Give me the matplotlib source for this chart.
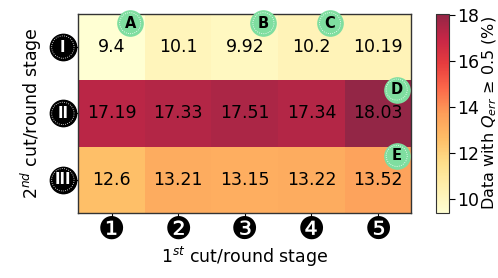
import matplotlib
matplotlib.use("Agg")
import matplotlib.pyplot as plt
import matplotlib.transforms as mtransforms
import numpy as np

ROWS = ["I", "II", "III"]
COLS = ["\u2776", "\u2777", "\u2778", "\u2779", "\u277a"]
VALUES = [
    [9.4, 10.1, 9.92, 10.2, 10.19],
    [17.19, 17.33, 17.51, 17.34, 18.03],
    [12.6, 13.21, 13.15, 13.22, 13.52],
]
LABELS = ["9.4", "10.1", "9.92", "10.2", "10.19",
          "17.19", "17.33", "17.51", "17.34", "18.03",
          "12.6", "13.21", "13.15", "13.22", "13.52"]
# marker letters: (letter, column, row)
MARKS = [("A", 0, 0), ("B", 2, 0), ("C", 3, 0), ("D", 4, 1), ("E", 4, 2)]
CBAR_TICKS = [10, 12, 14, 16, 18]

MINT = "#7fdea0"
FS = 12.5

plt.rcParams["font.family"] = "DejaVu Sans"

data = np.array(VALUES)
fig = plt.figure(figsize=(4.98, 2.78), dpi=100)
ax = fig.add_axes([0.157, 0.234, 0.669, 0.716])
cax = fig.add_axes([0.876, 0.234, 0.026, 0.716])

mesh = ax.pcolormesh(data, cmap="YlOrRd", alpha=0.85,
                     vmin=data.min(), vmax=data.max())
ax.set_xlim(0, data.shape[1])
ax.set_ylim(data.shape[0], 0)

for i in range(data.shape[0]):
    for j in range(data.shape[1]):
        ax.text(j + 0.5, i + 0.5, LABELS[i * data.shape[1] + j],
                ha="center", va="center", fontsize=FS, color="black")

# green letter badges
for letter, j, i in MARKS:
    ax.scatter([j + 0.78], [i + 0.14], s=330, c=MINT, zorder=5, clip_on=False)
    ax.scatter([j + 0.78], [i + 0.14], s=230, c=MINT, edgecolors="white",
               linewidths=0.6, linestyle=":", zorder=6, clip_on=False)
    ax.text(j + 0.78, i + 0.14, letter, ha="center", va="center",
            fontsize=10.5, fontweight="bold", color="black", zorder=7)

# x ticks: negative circled digits
ax.set_xticks(np.arange(data.shape[1]) + 0.5)
ax.set_xticklabels(COLS, fontsize=22)
ax.tick_params(axis="x", length=4, pad=-2)

# y ticks: roman numerals in black circles
ax.set_yticks(np.arange(data.shape[0]) + 0.5)
ax.set_yticklabels([])
ax.tick_params(axis="y", length=4)
trans = mtransforms.blended_transform_factory(ax.transAxes, ax.transData)
ypos = np.arange(data.shape[0]) + 0.5
ax.scatter(np.full(3, -0.046), ypos, s=360, c="black", transform=trans,
           clip_on=False, zorder=5)
ax.scatter(np.full(3, -0.046), ypos, s=260, c="black", edgecolors="white",
           linewidths=0.6, linestyle=":", transform=trans, clip_on=False, zorder=6)
for y, r in zip(ypos, ROWS):
    ax.text(-0.046, y, r, transform=trans, ha="center", va="center",
            color="white", fontsize=11.5, fontweight="bold", zorder=7,
            fontstretch="condensed")

ax.set_xlabel("1$^{st}$ cut/round stage", fontsize=FS, labelpad=0)
ax.set_ylabel("2$^{nd}$ cut/round stage", fontsize=FS, labelpad=17)
for s in ax.spines.values():
    s.set_color("#333333")
    s.set_linewidth(1.0)

cb = fig.colorbar(mesh, cax=cax)
cb.set_ticks(CBAR_TICKS)
cb.ax.tick_params(labelsize=FS, length=4, pad=2)
cb.set_label("Data with $Q_{err}$ \u2265 0.5 (%)", fontsize=11.5, labelpad=1)
cb.outline.set_edgecolor("#333333")

fig.savefig("out.png", dpi=100)
